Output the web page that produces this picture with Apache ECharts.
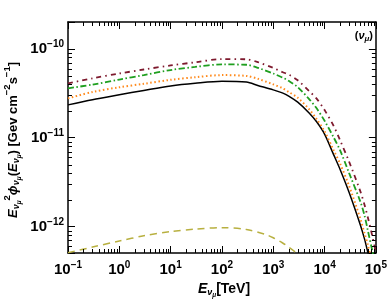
<!DOCTYPE html>
<html><head><meta charset="utf-8">
<script src="https://cdn.jsdelivr.net/npm/echarts@6/dist/echarts.min.js"></script>
<style>html,body{margin:0;padding:0;background:#fff}#c{width:390px;height:306px}</style>
</head><body><div id="c"></div>
<script>
// ---- data ----
const energies = [0.1,0.3,1,3,10,30,100,300,500,1000,1500,2000,3000,5000,7000,10000,15000,20000,30000,50000,60000,70000,85000,100000];
const fluxBlack  = [2.34e-11,2.68e-11,3.04e-11,3.40e-11,3.82e-11,4.10e-11,4.32e-11,4.22e-11,3.87e-11,3.45e-11,3.19e-11,2.94e-11,2.51e-11,1.90e-11,1.51e-11,1.10e-11,6.46e-12,4.43e-12,2.44e-12,1.04e-12,7.3e-13,5.1e-13,3.2e-13,1.8e-13];
const fluxOrange = [2.77e-11,3.27e-11,3.69e-11,4.04e-11,4.48e-11,4.79e-11,5.06e-11,4.95e-11,4.60e-11,3.98e-11,3.61e-11,3.27e-11,2.82e-11,2.09e-11,1.62e-11,1.18e-11,7.24e-12,5.13e-12,2.88e-12,1.22e-12,8.4e-13,6.2e-13,3.8e-13,2.2e-13];
const fluxGreen  = [3.59e-11,3.96e-11,4.50e-11,5.07e-11,5.77e-11,6.25e-11,6.67e-11,6.61e-11,6.11e-11,5.27e-11,4.76e-11,4.36e-11,3.71e-11,2.72e-11,2.14e-11,1.55e-11,1.01e-11,7.24e-12,4.03e-12,1.90e-12,1.34e-12,8.97e-13,5.4e-13,3.5e-13];
const fluxRed    = [4.08e-11,4.66e-11,5.27e-11,5.85e-11,6.49e-11,7.05e-11,7.66e-11,7.62e-11,7.08e-11,6.10e-11,5.48e-11,5.13e-11,4.42e-11,3.35e-11,2.75e-11,2.05e-11,1.36e-11,9.4e-12,5.4e-12,2.48e-12,1.76e-12,1.26e-12,7.9e-13,5.1e-13];
const energiesOlive = [0.1,0.3,1,3,10,30,100,300,700,1000,1500,2000,3000,5000];
const fluxOlive  = [5.1e-13,5.9e-13,6.9e-13,7.9e-13,8.8e-13,9.4e-13,9.75e-13,9.3e-13,8.2e-13,7.5e-13,6.6e-13,5.9e-13,4.9e-13,3.5e-13];
const xTickExps = [-1,0,1,2,3,4,5];
const yTickExps = [-12,-11,-10];

const xMin = 0.1, xMax = 1e5, yMin = 5.06e-13, yMax = 2.0e-10;
const FONT = 'Liberation Sans, Arial, Helvetica, sans-serif';

function zip(xs, ys){ return xs.map((x,i)=>[x, ys[i]]); }
function expLabel(exps){
  return function(v){
    const l = Math.log10(v), e = Math.round(l);
    if (Math.abs(l - e) > 1e-6 || exps.indexOf(e) < 0) return '';
    return '{b|10}{s|' + (e < 0 ? '\u2212' + (-e) : e) + '}';
  };
}
const labelRich = {
  b: {fontSize: 15, fontWeight: 'bold', fontFamily: FONT, color: '#000'},
  s: {fontSize: 10, fontWeight: 'bold', fontFamily: FONT, color: '#000', padding: [0,0,9,0]}
};

// minor tick positions (axis decoration)
const xMinor = []; for (let k=-1;k<5;k++) for (let m=2;m<=9;m++) xMinor.push(m*Math.pow(10,k));
const yMinor = []; for (let k=-13;k<-9;k++) for (let m=2;m<=9;m++){ const v=m*Math.pow(10,k); if (v>yMin && v<yMax) yMinor.push(v); }

function minorX(params, api){
  const cs = params.coordSys;
  const x = Math.round(api.coord([api.value(0), 1e-11])[0]) + 0.5;
  const st = {stroke:'#000', lineWidth:1};
  return {type:'group', children:[
    {type:'line', shape:{x1:x, y1:cs.y+cs.height, x2:x, y2:cs.y+cs.height-4}, style:st},
    {type:'line', shape:{x1:x, y1:cs.y, x2:x, y2:cs.y+4}, style:st}
  ]};
}
function minorY(params, api){
  const cs = params.coordSys;
  const y = Math.round(api.coord([1, api.value(1)])[1]) + 0.5;
  const st = {stroke:'#000', lineWidth:1};
  return {type:'group', children:[
    {type:'line', shape:{x1:cs.x, y1:y, x2:cs.x+4, y2:y}, style:st},
    {type:'line', shape:{x1:cs.x+cs.width, y1:y, x2:cs.x+cs.width-4, y2:y}, style:st}
  ]};
}

const axisCommon = {
  type: 'log', logBase: 10,
  axisLine: {show: true, lineStyle: {color: '#000', width: 1.5}},
  axisTick: {show: true, inside: true, length: 7, lineStyle: {color: '#000', width: 1}},
  splitLine: {show: false},
  minorTick: {show: false}
};

const titleRich = {
  E:   {fontSize: 13, fontWeight: 'bold', fontStyle: 'italic', fontFamily: FONT, color:'#000'},
  t:   {fontSize: 13, fontWeight: 'bold', fontFamily: FONT, color:'#000'},
  sub: {fontSize: 9, fontWeight: 'bold', fontStyle: 'italic', fontFamily: FONT, color:'#000', padding: [7,0,0,0]},
  sub2:{fontSize: 6.5,  fontWeight: 'bold', fontStyle: 'italic', fontFamily: FONT, color:'#000', padding: [12,0,0,0]},
  sup: {fontSize: 9.5, fontWeight: 'bold', fontFamily: FONT, color:'#000', padding: [0,0,11,0]}
};
const xTitleRich = Object.assign({}, titleRich, {
  E:   {fontSize: 14, fontWeight: 'bold', fontStyle: 'italic', fontFamily: FONT, color:'#000'},
  t:   {fontSize: 14, fontWeight: 'bold', fontFamily: FONT, color:'#000'}
});

const chart = echarts.init(document.getElementById('c'), null, {renderer: 'canvas'});
chart.setOption({
  animation: false,
  backgroundColor: '#fff',
  grid: {left: 68, right: 13, top: 22, bottom: 53},
  xAxis: [
    Object.assign({}, axisCommon, {min: xMin, max: xMax, position: 'bottom',
      axisLabel: {margin: 7, formatter: expLabel(xTickExps), rich: labelRich, showMinLabel: true, showMaxLabel: true}}),
    Object.assign({}, axisCommon, {min: xMin, max: xMax, position: 'top', axisLabel: {show: false}})
  ],
  yAxis: [
    Object.assign({}, axisCommon, {min: yMin, max: yMax, position: 'left',
      axisLabel: {margin: 4, formatter: expLabel(yTickExps), rich: labelRich}}),
    Object.assign({}, axisCommon, {min: yMin, max: yMax, position: 'right', axisLabel: {show: false}})
  ],
  series: [
    {type:'line', name:'olive', data: zip(energiesOlive, fluxOlive), showSymbol:false, smooth:0.3, clip:true,
     lineStyle:{color:'#b8b040', width:1.5, type:[7,5]}},
    {type:'line', name:'black', data: zip(energies, fluxBlack), showSymbol:false, smooth:0.3, clip:true,
     lineStyle:{color:'#000', width:1.5, type:'solid'}},
    {type:'line', name:'orange', data: zip(energies, fluxOrange), showSymbol:false, smooth:0.3, clip:true,
     lineStyle:{color:'#ff8a1c', width:2, type:[1.5,2.5]}},
    {type:'line', name:'green', data: zip(energies, fluxGreen), showSymbol:false, smooth:0.3, clip:true,
     lineStyle:{color:'#1f9f1f', width:1.8, type:[6,2.5,1.5,2.5]}},
    {type:'line', name:'red', data: zip(energies, fluxRed), showSymbol:false, smooth:0.3, clip:true,
     lineStyle:{color:'#7e1a2e', width:1.8, type:[5,4,1.5,4]}},
    {type:'custom', name:'xminor', renderItem: minorX, data: xMinor.map(v=>[v,1e-11]), silent:true, clip:false, z:5},
    {type:'custom', name:'yminor', renderItem: minorY, data: yMinor.map(v=>[1,v]), silent:true, clip:false, z:5}
  ],
  graphic: [
    {type:'text', x: 13, y: 140, rotation: Math.PI/2, style: {
      text: '{E|E}{sub|\u03bd}{sub2|\u03bc}{sup|2}{E|\u03d5}{sub|\u03bd}{sub2|\u03bc}{t|(}{E|E}{sub|\u03bd}{sub2|\u03bc}{t|) [Gev cm}{sup|\u22122}{t|s}{sup|\u22121}{t|]}',
      rich: titleRich, align: 'center', verticalAlign: 'middle'}},
    {type:'text', x: 224, y: 289, style: {
      text: '{E|E}{sub|\u03bd}{sub2|\u03bc}{t|[TeV]}',
      rich: xTitleRich, align: 'center', verticalAlign: 'middle'}},
    {type:'text', x: 373, y: 36, style: {
      text: '{p|(}{n|\u03bd}{m|\u03bc}{p|)}',
      rich: {
        p: {fontSize: 11, fontWeight:'bold', fontFamily: FONT, color:'#000'},
        n: {fontSize: 11, fontWeight:'bold', fontStyle:'italic', fontFamily: FONT, color:'#000'},
        m: {fontSize: 8, fontWeight:'bold', fontStyle:'italic', fontFamily: FONT, color:'#000', padding:[5,0,0,0]}
      }, align: 'right', verticalAlign: 'middle'}}
  ]
});
</script></body></html>
